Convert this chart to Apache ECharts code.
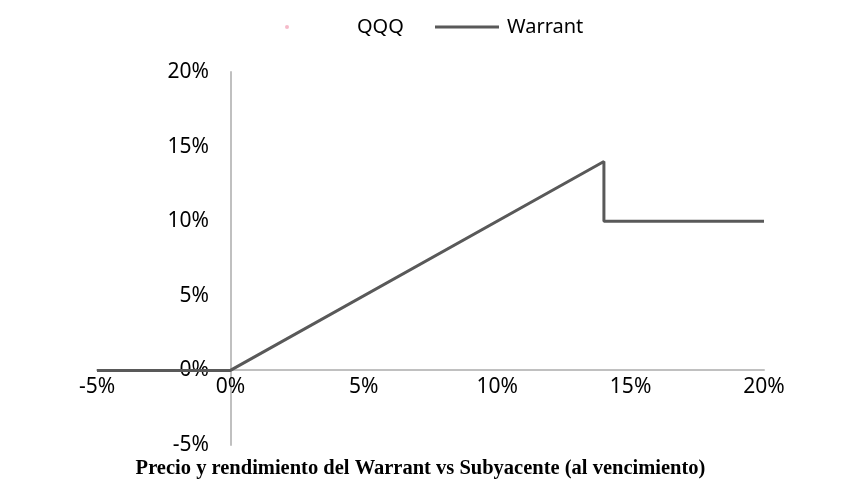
<!DOCTYPE html>
<html>
<head>
<meta charset="utf-8">
<script src="https://cdn.jsdelivr.net/npm/echarts@6/dist/echarts.min.js"></script>
<style>
  html, body { margin: 0; padding: 0; background: #fff; }
  #chart { width: 841px; height: 495px; }
</style>
</head>
<body>
<div id="chart"></div>
<script>
// rendimiento subyacente (%) vs rendimiento warrant (%)
var warrantX = [-5, 0, 14, 14, 20];
var warrantY = [0, 0, 14, 10, 10];
var qqqData = [];
var axisTicks = [-5, 0, 5, 10, 15, 20];
var titleText = "Precio y rendimiento del Warrant vs Subyacente (al vencimiento)";

var warrantData = warrantX.map(function (x, i) { return [x, warrantY[i]]; });
var font = "Noto Sans";

var myChart = echarts.init(document.getElementById("chart"));
myChart.setOption({
  animation: false,
  title: {
    text: titleText,
    left: "center",
    top: 453,
    textStyle: {
      fontFamily: "Liberation Serif",
      fontWeight: "bold",
      fontSize: 20.5,
      color: "#000"
    }
  },
  legend: [
    {
      data: [{ name: "QQQ", icon: "circle" }],
      left: 280,
      top: 12,
      itemWidth: 4,
      itemHeight: 4,
      textStyle: { fontFamily: font, fontSize: 20, color: "#000", padding: [0, 0, 0, 63] }
    },
    {
      data: [{ name: "Warrant", icon: "rect" }],
      left: 430,
      top: 12,
      itemWidth: 64,
      itemHeight: 3,
      textStyle: { fontFamily: font, fontSize: 20, color: "#000", padding: [0, 0, 0, 3] }
    }
  ],
  grid: {
    left: 97,
    right: 77,
    top: 72,
    bottom: 50,
    containLabel: false
  },
  xAxis: {
    type: "value",
    min: axisTicks[0],
    max: axisTicks[axisTicks.length - 1],
    interval: 5,
    offset: -75,
    axisLine: { show: true, onZero: false, lineStyle: { color: "#c0c0c0", width: 2 } },
    axisTick: { show: false },
    splitLine: { show: false },
    axisLabel: {
      margin: 7,
      fontFamily: font,
      fontSize: 21,
      color: "#000",
      formatter: "{value}%"
    }
  },
  yAxis: {
    type: "value",
    min: axisTicks[0],
    max: axisTicks[axisTicks.length - 1],
    interval: 5,
    offset: -134,
    axisLine: { show: true, onZero: false, lineStyle: { color: "#c0c0c0", width: 2 } },
    axisTick: { show: false },
    splitLine: { show: false },
    axisLabel: {
      margin: 22,
      fontFamily: font,
      fontSize: 21,
      color: "#000",
      formatter: "{value}%"
    }
  },
  series: [
    {
      name: "QQQ",
      type: "scatter",
      symbolSize: 2,
      itemStyle: { color: "#f2a9bc" },
      data: qqqData
    },
    {
      name: "Warrant",
      type: "line",
      symbol: "none",
      lineStyle: { color: "#595959", width: 3 },
      itemStyle: { color: "#595959" },
      data: warrantData
    }
  ]
});
</script>
</body>
</html>
